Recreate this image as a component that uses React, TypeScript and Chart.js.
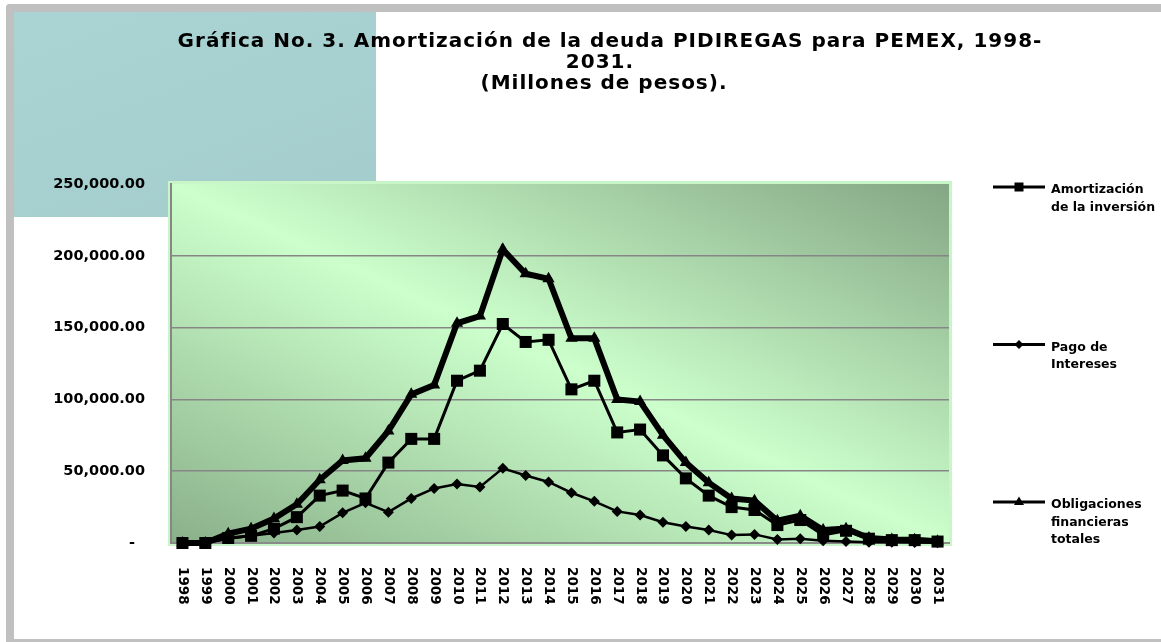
import { useEffect, useRef } from "react";
import { Chart, registerables } from "chart.js";

Chart.register(...registerables);

const years = [
  "1998", "1999", "2000", "2001", "2002", "2003", "2004", "2005", "2006", "2007",
  "2008", "2009", "2010", "2011", "2012", "2013", "2014", "2015", "2016", "2017",
  "2018", "2019", "2020", "2021", "2022", "2023", "2024", "2025", "2026", "2027",
  "2028", "2029", "2030", "2031",
];

const amortizacion = [
  0, 0, 3500, 5000, 10000, 18000, 33000, 36500, 31000, 56000,
  72500, 72500, 113000, 120000, 152500, 140000, 141500, 107000, 113000, 77000,
  79000, 61000, 45000, 33000, 25000, 23000, 12500, 16000, 5600, 8500,
  3000, 2000, 2000, 1000,
];

const intereses = [
  0, 0, 3000, 5000, 7000, 9000, 11500, 21000, 28000, 21500,
  31000, 38000, 41000, 39000, 52000, 47000, 42500, 35000, 29000, 22000,
  19500, 14500, 11500, 9000, 5500, 6000, 2500, 3000, 1500, 1000,
  500, 500, 300, 200,
];

const obligaciones = [
  0, 0, 6500, 10000, 17000, 27000, 44000, 57500, 59000, 78000,
  103500, 110000, 153000, 158000, 204500, 187500, 184000, 142500, 142500, 100000,
  98500, 75000, 56000, 42000, 31000, 29500, 15500, 19000, 9000, 10000,
  3500, 2500, 2300, 1200,
];

const seriesLabels = [
  "Amortización de la inversión",
  "Pago de Intereses",
  "Obligaciones financieras totales",
];

const titleLines = [
  "Gráfica No. 3. Amortización de la deuda PIDIREGAS para PEMEX, 1998-",
  "2031.",
  "(Millones de pesos).",
];

const yTickValues = [0, 50000, 100000, 150000, 200000, 250000];
const yTickLabels = ["-  ", "50,000.00", "100,000.00", "150,000.00", "200,000.00", "250,000.00"];

const FONT = "'DejaVu Sans', Verdana, sans-serif";

const plotBackground = {
  id: "plotBackground",
  beforeDraw(chart: any) {
    const { ctx, chartArea } = chart;
    const { left, top, right, bottom } = chartArea;
    ctx.save();
    ctx.fillStyle = "#c8f6c8";
    ctx.fillRect(left - 3, top - 3, right - left + 6, bottom - top + 6);
    ctx.translate(left, top);
    ctx.scale(right - left, bottom - top);
    const g = ctx.createLinearGradient(0, 1, 1, 0);
    g.addColorStop(0, "#8ab08a");
    g.addColorStop(0.5, "#ccffcc");
    g.addColorStop(1, "#84a684");
    ctx.fillStyle = g;
    ctx.fillRect(0, 0, 1, 1);
    ctx.restore();
  },
};

const titlePlugin = {
  id: "titleLines",
  afterDraw(chart: any) {
    const { ctx } = chart;
    const centers = [610, 600, 604];
    const baselines = [47, 68, 89];
    ctx.save();
    ctx.fillStyle = "#000";
    ctx.font = `bold 20px ${FONT}`;
    try {
      (ctx as any).letterSpacing = "1px";
    } catch (e) {}
    ctx.textAlign = "center";
    ctx.textBaseline = "alphabetic";
    titleLines.forEach((line, i) => {
      ctx.fillText(line, centers[i], baselines[i]);
    });
    ctx.restore();
  },
};

const xLabelsPlugin = {
  id: "xLabels",
  afterDraw(chart: any) {
    const { ctx, scales, chartArea } = chart;
    const xs = scales.x;
    ctx.save();
    ctx.fillStyle = "#000";
    ctx.font = `bold 13.5px ${FONT}`;
    ctx.textAlign = "left";
    ctx.textBaseline = "middle";
    (chart.data.labels as string[]).forEach((lab, i) => {
      const x = xs.getPixelForTick(i);
      ctx.save();
      ctx.translate(x, chartArea.bottom + 24);
      ctx.rotate(Math.PI / 2);
      ctx.fillText(lab, 0, 0);
      ctx.restore();
    });
    ctx.restore();
  },
};

function drawMarker(ctx: CanvasRenderingContext2D, style: string, x: number, y: number) {
  ctx.beginPath();
  if (style === "rect") {
    ctx.rect(x - 4.5, y - 4.5, 9, 9);
  } else if (style === "rectRot") {
    ctx.moveTo(x - 4.5, y);
    ctx.lineTo(x, y - 4.5);
    ctx.lineTo(x + 4.5, y);
    ctx.lineTo(x, y + 4.5);
    ctx.closePath();
  } else {
    ctx.moveTo(x, y - 5.5);
    ctx.lineTo(x + 5, y + 3);
    ctx.lineTo(x - 5, y + 3);
    ctx.closePath();
  }
  ctx.fill();
}

const legendPlugin = {
  id: "sideLegend",
  afterDraw(chart: any) {
    const { ctx } = chart;
    const startY = 187;
    const spacing = 157.5;
    const lineX0 = 993;
    const lineX1 = 1045;
    const textX = 1051;
    const maxW = 110;
    ctx.save();
    ctx.font = `bold 12.5px ${FONT}`;
    ctx.textAlign = "left";
    ctx.textBaseline = "alphabetic";
    chart.data.datasets.forEach((ds: any, i: number) => {
      const y = startY + i * spacing;
      ctx.strokeStyle = "#000";
      ctx.fillStyle = "#000";
      ctx.lineWidth = 3;
      ctx.beginPath();
      ctx.moveTo(lineX0, y);
      ctx.lineTo(lineX1, y);
      ctx.stroke();
      drawMarker(ctx, ds.pointStyle, (lineX0 + lineX1) / 2, y);
      const words = String(ds.label).split(" ");
      const lines: string[] = [];
      let cur = "";
      words.forEach((w) => {
        const test = cur ? cur + " " + w : w;
        if (cur && ctx.measureText(test).width > maxW) {
          lines.push(cur);
          cur = w;
        } else {
          cur = test;
        }
      });
      if (cur) lines.push(cur);
      lines.forEach((ln, k) => {
        ctx.fillText(ln, textX, y + 6 + k * 17.5);
      });
    });
    ctx.restore();
  },
};

export default function App() {
  const canvasRef = useRef<HTMLCanvasElement | null>(null);

  useEffect(() => {
    if (!canvasRef.current) return;
    const chart = new Chart(canvasRef.current, {
      type: "line",
      data: {
        labels: years,
        datasets: [
          {
            label: seriesLabels[0],
            data: amortizacion,
            borderColor: "#000",
            backgroundColor: "#000",
            borderWidth: 3,
            pointStyle: "rect",
            pointRadius: 8.5,
            pointBackgroundColor: "#000",
            pointBorderColor: "#000",
            pointBorderWidth: 0,
            tension: 0,
            clip: false as any,
            order: 1,
          },
          {
            label: seriesLabels[1],
            data: intereses,
            borderColor: "#000",
            backgroundColor: "#000",
            borderWidth: 2.5,
            pointStyle: "rectRot",
            pointRadius: 5.5,
            pointBackgroundColor: "#000",
            pointBorderColor: "#000",
            pointBorderWidth: 0,
            tension: 0,
            clip: false as any,
            order: 2,
          },
          {
            label: seriesLabels[2],
            data: obligaciones,
            borderColor: "#000",
            backgroundColor: "#000",
            borderWidth: 6,
            pointStyle: "triangle",
            pointRadius: 7,
            pointBackgroundColor: "#000",
            pointBorderColor: "#000",
            pointBorderWidth: 0,
            tension: 0,
            clip: false as any,
            order: 0,
          },
        ],
      },
      options: {
        responsive: false,
        animation: false,
        events: [],
        layout: { padding: { top: 184, right: 212, left: 0, bottom: 0 } },
        plugins: {
          legend: { display: false },
          title: { display: false },
          tooltip: { enabled: false },
        },
        scales: {
          x: {
            type: "category",
            offset: true,
            ticks: { display: false },
            grid: { display: false, drawTicks: false },
            border: { display: true, color: "#8a8a8a", width: 2 },
            afterFit: (s: any) => {
              s.height = 99;
            },
          },
          y: {
            min: 0,
            max: 250000,
            afterBuildTicks: (s: any) => {
              s.ticks = yTickValues.map((v) => ({ value: v }));
            },
            ticks: {
              padding: 26,
              color: "#000",
              font: { family: FONT, weight: "bold", size: 14.5 },
              callback: (_v: any, i: number) => yTickLabels[i],
            },
            grid: {
              drawTicks: false,
              lineWidth: 1.5,
              color: (c: any) => (c.tick && c.tick.value === 250000 ? "rgba(0,0,0,0)" : "#868686"),
            },
            border: { display: true, color: "#868686", width: 2 },
            afterFit: (s: any) => {
              s.width = 171;
            },
          },
        },
      },
      plugins: [plotBackground, titlePlugin, xLabelsPlugin, legendPlugin],
    });
    return () => chart.destroy();
  }, []);

  const gray = "#c0c0c0";
  return (
    <div
      style={{
        position: "fixed",
        left: 0,
        top: 0,
        width: 1161,
        height: 642,
        background: "#fff",
        overflow: "hidden",
      }}
    >
      <div style={{ position: "absolute", left: 6, top: 4, width: 1200, height: 8, background: gray, borderTopLeftRadius: 4 }} />
      <div style={{ position: "absolute", left: 6, top: 4, width: 8, height: 700, background: gray, borderTopLeftRadius: 4 }} />
      <div style={{ position: "absolute", left: 6, top: 639, width: 1200, height: 3, background: gray }} />
      <div
        style={{
          position: "absolute",
          left: 14,
          top: 12,
          width: 362,
          height: 205,
          background: "linear-gradient(160deg, #aad4d4 0%, #a7d0d0 50%, #a4cccc 100%)",
        }}
      />
      <canvas
        ref={canvasRef}
        width={1161}
        height={642}
        style={{ position: "absolute", left: 0, top: 0, width: 1161, height: 642 }}
      />
    </div>
  );
}
